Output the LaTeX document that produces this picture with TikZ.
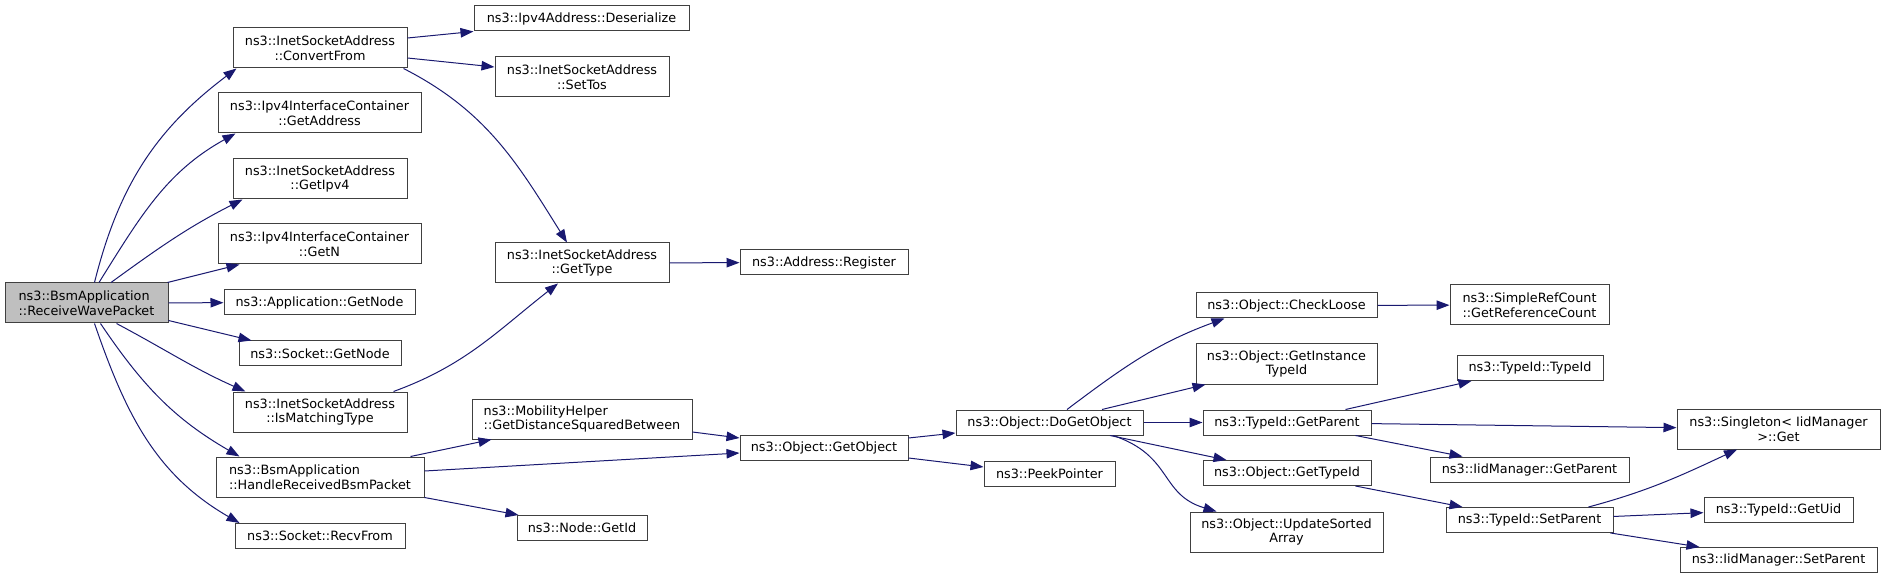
\documentclass[tikz,border=0pt]{standalone}
\usepackage{fontspec}
\setmainfont{DejaVu Sans}
\usepackage{tikz}
\usetikzlibrary{arrows.meta,positioning,calc}
\definecolor{callblue}{RGB}{25,25,112}

\begin{document}
\begin{tikzpicture}[x=1pt, y=1pt,
    fn/.style={rectangle, draw=black!75, fill=white, line width=1pt, inner sep=0pt,
        minimum height=25pt, align=center, font=\fontsize{12.8}{14.7}\selectfont},
    fn2/.style={fn, minimum height=40pt},
    rootfn/.style={fn2, fill=black!25},
    call/.style={draw=callblue, line width=1pt, -{Triangle[length=13pt,width=9.5pt]}, callblue}
]
    \useasboundingbox (0,0) rectangle (1885,579);

    \node[rootfn, minimum width=163pt, align=left] (recvwave) at (86.5,276) {ns3::BsmApplication\\::ReceiveWavePacket};

    \node[fn2, minimum width=174pt] (convfrom) at (320,531) {ns3::InetSocketAddress\\::ConvertFrom};
    \node[fn2, minimum width=203pt] (getaddr) at (319.5,466) {ns3::Ipv4InterfaceContainer\\::GetAddress};
    \node[fn2, minimum width=174pt] (getipv4) at (320,400) {ns3::InetSocketAddress\\::GetIpv4};
    \node[fn2, minimum width=203pt] (getn) at (319.5,335) {ns3::Ipv4InterfaceContainer\\::GetN};
    \node[fn, minimum width=191pt] (appnode) at (319.5,276.5) {ns3::Application::GetNode};
    \node[fn, minimum width=162pt] (socknode) at (320,225.5) {ns3::Socket::GetNode};
    \node[fn2, minimum width=174pt] (ismatch) at (320,167) {ns3::InetSocketAddress\\::IsMatchingType};
    \node[fn2, minimum width=208pt, align=left] (handlebsm) at (320,102) {ns3::BsmApplication\\::HandleReceivedBsmPacket};
    \node[fn, minimum width=170pt] (recvfrom) at (320,43) {ns3::Socket::RecvFrom};

    \node[fn, minimum width=215pt] (deser) at (581.5,560.5) {ns3::Ipv4Address::Deserialize};
    \node[fn2, minimum width=174pt] (settos) at (582,502) {ns3::InetSocketAddress\\::SetTos};
    \node[fn2, minimum width=174pt] (gettype) at (582,316) {ns3::InetSocketAddress\\::GetType};
    \node[fn2, minimum width=220pt, align=left] (distsq) at (582,160) {ns3::MobilityHelper\\::GetDistanceSquaredBetween};
    \node[fn, minimum width=130pt] (nodeid) at (582,51) {ns3::Node::GetId};

    \node[fn, minimum width=168pt] (addrreg) at (824,316.5) {ns3::Address::Register};
    \node[fn, minimum width=168pt] (getobj) at (824,131.5) {ns3::Object::GetObject};

    \node[fn, minimum width=187pt] (dogetobj) at (1049.5,156.5) {ns3::Object::DoGetObject};
    \node[fn, minimum width=131pt] (peekptr) at (1049.5,105.5) {ns3::PeekPointer};

    \node[fn, minimum width=181pt] (checkloose) at (1286.5,273.5) {ns3::Object::CheckLoose};
    \node[fn2, minimum width=181pt] (insttype) at (1286.5,215) {ns3::Object::GetInstance\\TypeId};
    \node[fn, minimum width=168pt] (tidparent) at (1287,156.5) {ns3::TypeId::GetParent};
    \node[fn, minimum width=168pt] (objtypeid) at (1287,106) {ns3::Object::GetTypeId};
    \node[fn2, minimum width=193pt] (updsort) at (1286.5,47) {ns3::Object::UpdateSorted\\Array};

    \node[fn2, minimum width=159pt] (refcount) at (1529.5,274) {ns3::SimpleRefCount\\::GetReferenceCount};
    \node[fn, minimum width=146pt] (tidctor) at (1530,211) {ns3::TypeId::TypeId};
    \node[fn, minimum width=199pt] (iidparent) at (1529.5,109.5) {ns3::IidManager::GetParent};
    \node[fn, minimum width=167pt] (tidsetpar) at (1529.5,59) {ns3::TypeId::SetParent};

    \node[fn2, minimum width=203pt] (singleton) at (1778.5,150) {ns3::Singleton< IidManager\\>::Get};
    \node[fn, minimum width=149pt] (getuid) at (1778.5,69.5) {ns3::TypeId::GetUid};
    \node[fn, minimum width=197pt] (iidsetpar) at (1778.5,19) {ns3::IidManager::SetParent};

    \path[call] ([xshift=8pt]recvwave.north) to[out=76,in=217] ([xshift=4pt]convfrom.south west);
    \path[call] ([xshift=12.5pt]recvwave.north) to[out=58,in=209] ([xshift=18pt]getaddr.south west);
    \path[call] ([xshift=24.5pt]recvwave.north) to[out=36,in=207] ([xshift=10pt]getipv4.south west);
    \path[call] ([xshift=-1pt]recvwave.north east) -- ([xshift=22pt]getn.south west);
    \path[call] (recvwave) -- (appnode);
    \path[call] ([yshift=3pt]recvwave.south east) -- ([xshift=13pt]socknode.north west);
    \path[call] ([xshift=30pt]recvwave.south) to[out=-28,in=156] ([xshift=13pt]ismatch.north west);
    \path[call] ([xshift=14pt]recvwave.south) to[out=-56,in=150] ([xshift=24pt]handlebsm.north west);
    \path[call] ([xshift=8pt]recvwave.south) to[out=-71,in=150] ([xshift=5pt]recvfrom.north west);

    \path[call] ([yshift=10pt]convfrom.east) -- (deser.south west);
    \path[call] ([yshift=-10pt]convfrom.east) -- ([yshift=10pt]settos.west);
    \path[call] ([xshift=-4pt]convfrom.south east) to[out=-27,in=122] ([xshift=-15pt]gettype.north);
    \path[call] ([xshift=-14pt]ismatch.north east) to[out=20,in=218] ([xshift=-24pt]gettype.south);
    \path[call] (gettype) -- (addrreg);

    \path[call] ([xshift=-14pt]handlebsm.north east) -- ([xshift=20pt]distsq.south west);
    \path[call] ([yshift=6pt]handlebsm.east) -- ([yshift=-5.5pt]getobj.west);
    \path[call] (handlebsm.south east) -- ([xshift=2pt]nodeid.north west);
    \path[call] ([yshift=-13pt]distsq.east) -- ([yshift=9.5pt]getobj.west);

    \path[call] ([yshift=9.5pt]getobj.east) -- ([yshift=-10.5pt]dogetobj.west);
    \path[call] ([yshift=-10.5pt]getobj.east) -- ([yshift=6.5pt]peekptr.west);

    \path[call] ([xshift=17.5pt]dogetobj.north) to[out=37,in=200] ([xshift=29pt]checkloose.south west);
    \path[call] ([xshift=52.5pt]dogetobj.north) -- ([xshift=10pt]insttype.south west);
    \path[call] (dogetobj) -- (tidparent);
    \path[call] ([xshift=60.5pt]dogetobj.south) -- ([xshift=24pt]objtypeid.north west);
    \path[call] ([xshift=63.5pt]dogetobj.south) .. controls +(60,-20) and +(-57,17) .. ([xshift=27pt]updsort.north west);

    \path[call] (checkloose) -- (refcount);
    \path[call] ([xshift=-26pt]tidparent.north east) -- ([xshift=15pt]tidctor.south west);
    \path[call] (tidparent) -- (singleton);
    \path[call] ([xshift=-16pt]tidparent.south east) -- ([xshift=33pt]iidparent.north west);
    \path[call] ([xshift=-16pt]objtypeid.south east) -- ([xshift=17pt]tidsetpar.north west);

    \path[call] ([xshift=-25pt]tidsetpar.north east) to[out=15,in=205] ([xshift=-41.5pt]singleton.south);
    \path[call] (tidsetpar) -- (getuid);
    \path[call] ([xshift=-3pt]tidsetpar.south east) -- ([xshift=20pt]iidsetpar.north west);
\end{tikzpicture}
\end{document}
